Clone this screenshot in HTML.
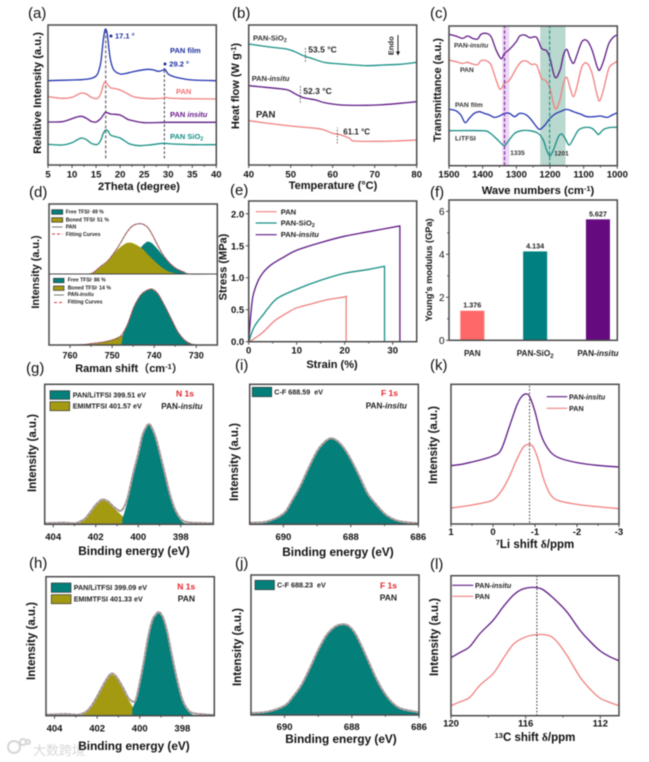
<!DOCTYPE html>
<html lang="en">
<head>
<meta charset="utf-8">
<title>PAN electrolyte characterization figure</title>
<style>
html,body{margin:0;padding:0;background:#fff;width:649px;height:762px;overflow:hidden}
svg{display:block;filter:blur(0.45px)}
text{font-family:"Liberation Sans","Noto Sans CJK SC",sans-serif;fill:#111}
</style>
</head>
<body>
<svg id="figure" xmlns="http://www.w3.org/2000/svg" width="649" height="762" viewBox="0 0 649 762"></svg>
<script>
// Panel (a) XRD
const xrdFilmTheta=[5,10,12,14,15,15.5,16,16.5,16.9,17.3,17.7,18,18.5,19,20,21,23,25,26,27,28,29,29.3,30,31,33,35,40];
const xrdFilmValues=[253,255,256,260,267,280,310,375,407,395,345,315,290,280,273,274,281,286,287,285,281,285,288,273,266,259,255,253];
const xrdPanTheta=[5,6,8,10,11,12,13,14,15,15.5,16,16.5,16.9,17.3,18,19,20,21,22,23,25,27,29,29.3,30,33,40];
const xrdPanValues=[205,203,200,203,210,216,213,203,199,202,215,240,250,243,232,229,225,218,210,204,200,199,201,204,201,199,198];
const xrdInsituTheta=[5,8,10,11,12,13,14,15,16,16.5,17,18,19,20,21,22,25,30,40];
const xrdInsituValues=[129,130,139,144,146,140,131,129,140,150,158,153,152,150,142,135,127,128,128];
const xrdSioTheta=[5,8,10,11,12,13,14,15,15.5,16,16.5,17,17.5,18,19,20,21,22,24,26,29,31,35,40];
const xrdSioValues=[62,60,67,75,81,76,65,61,64,75,95,105,102,90,85,81,72,63,58,60,65,63,61,61];
const xrdXTicks=[5,10,15,20,25,30,35,40];
// Panel (b) DSC
const dscSioTemp=[40,45,49,51,53,55,58,62,68,72,76,80];
const dscSioValues=[363,354,348,340,328,320,308,303,298,300,302,308];
const dscInsituTemp=[40,44,49,51,53,56,58,62,68,72,76,80];
const dscInsituValues=[238,233,226,214,202,195,187,180,179,181,185,190];
const dscPanTemp=[40,44,50,56,58,60,62,64,65,70,75,80];
const dscPanValues=[133,126,117,110,105,95,90,80,72,71,72,75];
const dscXTicks=[40,50,60,70,80];
// Panel (c) FTIR
const irInsituWave=[1500,1480,1460,1445,1430,1415,1405,1390,1375,1360,1345,1335,1320,1300,1290,1275,1260,1240,1225,1210,1200,1185,1170,1160,1150,1140,1130,1120,1105,1090,1075,1060,1052,1040,1025,1010,1000];
const irInsituValues=[394,389,382,389,382,380,394,397,387,347,321,337,349,372,389,392,384,385,352,345,322,265,287,332,349,322,307,332,372,375,347,297,287,317,367,387,392];
const irPanWave=[1500,1480,1460,1445,1430,1415,1405,1390,1375,1360,1348,1335,1320,1300,1285,1270,1255,1240,1225,1212,1200,1185,1172,1160,1150,1140,1130,1120,1105,1090,1075,1060,1052,1040,1025,1010,1000];
const irPanValues=[317,312,307,310,305,303,315,315,302,257,229,247,257,292,312,314,304,302,262,255,232,172,192,247,265,232,207,237,297,307,277,212,195,232,292,307,314];
const irFilmWave=[1500,1480,1465,1452,1440,1425,1410,1395,1380,1365,1350,1335,1320,1305,1290,1270,1255,1240,1230,1215,1200,1185,1170,1150,1130,1110,1090,1070,1050,1030,1015,1000];
const irFilmValues=[169,165,152,129,142,157,162,157,152,145,149,157,157,147,157,152,137,117,109,122,142,155,162,169,162,155,147,147,149,145,152,159];
const irSaltWave=[1500,1400,1380,1360,1345,1335,1325,1305,1285,1260,1235,1220,1210,1200,1190,1175,1165,1155,1143,1130,1115,1095,1075,1060,1055,1040,1020,1000];
const irSaltValues=[105,105,99,82,67,60,72,97,105,105,97,77,47,29,47,87,95,82,62,82,107,115,112,97,94,109,115,115];
const irXTicks=[1500,1400,1300,1200,1100,1000];
// Panel (d) Raman
const ramanTopSumShift=[765,757,754.8,752.8,751,748.8,746.4,744.8,742.8,741.2,739.2,737.6,735.2,732.8,731.6,725];
const ramanTopSumValues=[0,0,2,22,40,77,127,147,150,134,87,52,20,5,0,0];
const ramanTopFreeShift=[748,746,745,744,743,742,741.5,740.5,739,737.6,736,735,733,731.6];
const ramanTopFreeValues=[5,20,38,60,82,94,97,92,72,50,28,18,5,0];
const ramanTopBondShift=[755,752.8,751,748.8,747,746,745,743,741,739,737,735,734];
const ramanTopBondValues=[0,20,38,72,90,94,92,78,52,28,10,2,0];
const ramanLowSumShift=[765,760,757,755,752,750,748,746.4,744.8,743.2,742,740.6,739.2,737.6,736,734.4,732.8,731.2,729.6,725];
const ramanLowSumValues=[0,0,1,4,9,15,26,60,115,150,162,168,155,120,80,40,15,3,0,0];
const ramanLowFreeShift=[747.8,747.5,746.4,744.8,743.2,742,740.6,739.2,737.6,736,734.4,732.8,731.2,729.6];
const ramanLowFreeValues=[0,28,60,115,150,162,168,155,120,80,40,15,3,0];
const ramanLowBondShift=[756,752,750,748,746,744,742,739,736];
const ramanLowBondValues=[0,8,16,27,28,22,15,6,0];
const ramanXTicks=[760,750,740,730];
// Panel (e) stress-strain
const ssPanStrain=[0,1,3,5,6,8,10,13,16,20,20.3,20.3];
const ssPanStress=[0,.04,.15,.3,.36,.45,.53,.59,.65,.7,.71,0];
const ssSioStrain=[0,1,2,3,4,6,10,15,20,25,28.3,28.3];
const ssSioStress=[0,.21,.33,.42,.52,.68,.82,.96,1.07,1.13,1.18,0];
const ssInsituStrain=[0,.3,.6,1,2,3,4,5,7,10,15,20,25,31.5,31.5];
const ssInsituStress=[0,.3,.55,.75,.96,1.08,1.16,1.22,1.31,1.43,1.55,1.65,1.72,1.81,0];
const ssXTicks=[0,10,20,30];
const ssYTicks=[0,.5,1,1.5,2];
const ssYLabels=["0.0","0.5","1.0","1.5","2.0"];
// Panel (f) modulus bars
const barCategories=["PAN","PAN-SiO<tspan dy=\"2\" font-size=\"6\">2</tspan>","PAN-<tspan font-style=\"italic\">insitu</tspan>"];
const barValues=[1.376,4.134,5.627];
const barYTicks=[0,2,4,6];
// Panel (g) XPS N1s insitu
const n1sInsituSumEv=[404.4,404,403.5,403,402.75,402.5,402.25,402,401.75,401.6,401.4,401.2,401,400.85,400.7,400.5,400.25,400,399.8,399.6,399.5,399.4,399.2,399,398.75,398.5,398.25,398,397.8,397.5,397,396.5];
const n1sInsituSumValues=[3,4,5,3,8,17,37,58,73,74,68,55,45,40,48,80,150,212,268,295,300,295,265,218,153,88,42,16,8,5,4,3];
const n1sInsituLiEv=[400.75,400.5,400.25,400,399.8,399.6,399.5,399.4,399.2,399,398.75,398.5,398.25,398,397.8,397.5];
const n1sInsituLiValues=[15,70,145,210,265,292,298,292,262,215,150,85,38,12,3,0];
const n1sInsituImEv=[403,402.75,402.5,402.25,402,401.75,401.6,401.4,401.2,401,400.75,400.5,400.25,400,399.8];
const n1sInsituImValues=[0,5,14,34,55,70,71,65,52,40,25,12,5,1,0];
// Panel (h) XPS N1s PAN
const n1sPanSumEv=[404.4,403.5,403,402.8,402.5,402.25,402,401.75,401.5,401.35,401.2,401,400.75,400.55,400.4,400.3,400.15,399.85,399.6,399.4,399.25,399.1,398.9,398.7,398.5,398.25,398,397.75,397.5,397,396.5];
const n1sPanSumValues=[3,5,3,4,13,31,58,88,115,126,124,108,80,55,45,42,55,148,238,288,303,311,294,249,184,109,49,19,8,4,2];
const n1sPanLiEv=[400.35,400.1,399.85,399.6,399.4,399.25,399.1,398.9,398.7,398.5,398.25,398,397.75,397.5,397.3];
const n1sPanLiValues=[20,65,145,235,285,300,307,290,245,180,105,45,15,3,0];
const n1sPanImEv=[402.8,402.5,402.25,402,401.75,401.5,401.35,401.2,401,400.75,400.5,400.25,400,399.8];
const n1sPanImValues=[0,10,28,55,85,112,122,120,105,75,45,20,5,0];
const n1sXTicks=[404,402,400,398];
// Panels (i)(j) XPS F1s
const f1sInsituEv=[691,690.5,690,689.75,689.5,689.25,689,688.8,688.6,688.4,688.2,688,687.75,687.5,687.25,687,686.75,686.5,686];
const f1sInsituValues=[5,8,32,70,115,170,220,245,258,250,228,195,145,92,60,32,16,8,3];
const f1sPanEv=[691,690.5,690,689.75,689.5,689.25,689,688.75,688.5,688.3,688.1,687.9,687.7,687.5,687.25,687,686.75,686.5,686];
const f1sPanValues=[6,10,28,55,90,140,195,240,265,272,268,245,205,160,105,62,33,18,8];
const f1sXTicks=[690,688,686];
// Panel (k) 7Li NMR
const liInsituShift=[1,.75,.5,.25,0,-.19,-.39,-.56,-.68,-.8,-.88,-1,-1.12,-1.24,-1.4,-1.6,-2,-2.47,-3];
const liInsituValues=[175,179,186,194,204,222,292,354,382,390,380,337,277,240,212,197,184,176,171];
const liPanShift=[1,.75,.5,.25,0,-.19,-.39,-.56,-.72,-.86,-.96,-1.08,-1.2,-1.36,-1.56,-2,-2.47,-3];
const liPanValues=[48,52,57,63,72,97,142,192,230,239,230,192,137,90,70,59,52,46];
const liXTicks=[1,0,-1,-2,-3];
// Panel (l) 13C NMR
const cInsituShift=[120,119.5,119,118.44,117.73,117.2,116.65,116.2,115.6,115.1,114.5,113.8,113.1,112.5,112,111.5,111];
const cInsituValues=[174,190,207,247,287,327,362,379,385,379,352,312,257,220,194,177,165];
const cPanShift=[120,119.5,119,118.44,117.73,117.2,116.65,116.1,115.6,114.87,114.4,113.8,113.1,112.5,112,111.5,111];
const cPanValues=[30,42,55,92,127,172,215,234,242,242,227,182,117,77,52,40,30];
const cXTicks=[120,116,112];

const NS='http://www.w3.org/2000/svg';
const root=document.getElementById('figure');
const FRAME='#4a4a4a',TEAL='#178f86',PURPLE='#5f1a85',PINK='#f08080',BLUE='#2233b0',FILLT='#047f7a',FILLO='#a39a12';
const LW=1.3;

function node(tag,parent,name,attrs){
  const n=document.createElementNS(NS,tag);
  
  
  for(const k in attrs){n.setAttribute(k,attrs[k]);}
  parent.appendChild(n);
  return n;
}
function txt(parent,name,x,y,html,size,o){
  o=o||{};
  const a={x:x,y:y,'font-size':size,'font-weight':o.weight||'bold','text-anchor':o.anchor||'start'};
  if(o.fill){a.style='fill:'+o.fill;}
  if(o.rotate){a.transform='rotate(-90 '+x+' '+y+')';}
  const t=node('text',parent,name,a);
  t.innerHTML=html;
  return t;
}
function panel(name,x0,y0,x1,y1,xd,yd){
  const g=node('g',root,name,{});
  return {g:g,x0:x0,y0:y0,x1:x1,y1:y1,
    x:v=>x0+(v-xd[0])/(xd[1]-xd[0])*(x1-x0),
    y:v=>y1-(v-yd[0])/(yd[1]-yd[0])*(y1-y0)};
}
function pts(p,xs,ys,off){
  return xs.map((v,i)=>[p.x(v),p.y(ys[i]+(off||0))]);
}
function smoothPath(q){
  let d='M'+q[0][0].toFixed(2)+' '+q[0][1].toFixed(2);
  for(let i=0;i<q.length-1;i++){
    const a=q[Math.max(i-1,0)],b=q[i],c=q[i+1],e=q[Math.min(i+2,q.length-1)];
    const c1=[b[0]+(c[0]-a[0])/6,b[1]+(c[1]-a[1])/6],c2=[c[0]-(e[0]-b[0])/6,c[1]-(e[1]-b[1])/6];
    d+='C'+c1[0].toFixed(2)+' '+c1[1].toFixed(2)+' '+c2[0].toFixed(2)+' '+c2[1].toFixed(2)+' '+c[0].toFixed(2)+' '+c[1].toFixed(2);
  }
  return d;
}
function linePath(q){return 'M'+q.map(r=>r[0].toFixed(2)+' '+r[1].toFixed(2)).join('L');}
function curve(p,name,xs,ys,color,w,o){
  o=o||{};
  const q=pts(p,xs,ys,o.off);
  let d;
  if(o.drop){
    const last=q[q.length-1];
    d=smoothPath(q.slice(0,-1))+'L'+last[0].toFixed(2)+' '+last[1].toFixed(2);
  }else{
    d=(o.linear?linePath:smoothPath)(q);
  }
  const a={d:d,fill:'none',stroke:color,'stroke-width':w,'stroke-linejoin':'round'};
  if(o.dash){a['stroke-dasharray']=o.dash;}
  return node('path',p.g,name,a);
}
function area(p,name,xs,ys,fill,o){
  o=o||{};
  const q=pts(p,xs,ys,o.off);
  const base=p.y(o.off||0);
  const d=(o.linear?linePath:smoothPath)(q)+'L'+q[q.length-1][0].toFixed(2)+' '+base+'L'+q[0][0].toFixed(2)+' '+base+'Z';
  return node('path',p.g,name,{d:d,fill:fill});
}
function frame(p){
  node('rect',p.g,'plot-frame',{x:p.x0,y:p.y0,width:p.x1-p.x0,height:p.y1-p.y0,fill:'none',stroke:FRAME,'stroke-width':1.5});
}
function tick(p,name,x1,y1,x2,y2){
  node('line',p.g,name,{x1:x1,y1:y1,x2:x2,y2:y2,stroke:FRAME,'stroke-width':1});
}
function xAxis(p,vals,labels,off,minor,size){
  vals.forEach((v,i)=>{
    tick(p,'x-tick',p.x(v),p.y1,p.x(v),p.y1+3);
    txt(p.g,'x-tick-label',p.x(v),p.y1+off,labels?labels[i]:String(v),size||9.5,{anchor:'middle'});
    if(i<vals.length-1&&minor){
      const m=(v+vals[i+1])/2;
      tick(p,'x-minor-tick',p.x(m),p.y1,p.x(m),p.y1+1.8);
    }
  });
}
function yAxis(p,vals,labels,minor,size,weight){
  vals.forEach((v,i)=>{
    tick(p,'y-tick',p.x0,p.y(v),p.x0-3,p.y(v));
    txt(p.g,'y-tick-label',p.x0-4.5,p.y(v)+3.5,labels?labels[i]:String(v),size||9.5,{anchor:'end',weight:weight||'bold'});
    if(i<vals.length-1&&minor){
      const m=(v+vals[i+1])/2;
      tick(p,'y-minor-tick',p.x0,p.y(m),p.x0-1.8,p.y(m));
    }
  });
}
function vguide(p,name,v,a,b,color,w,dash){
  node('line',p.g,name,{x1:p.x(v),x2:p.x(v),y1:p.y(a),y2:p.y(b),stroke:color,'stroke-width':w,'stroke-dasharray':dash});
}
function letter(s,x,y){txt(root,'panel-label-'+s,x,y,'('+s+')',15,{weight:'normal'});}
function yTitle(name,x,y,html,size){txt(root,name,x,y,html,size||11,{rotate:true,anchor:'middle'});}
function xTitle(name,x,y,html,size){txt(root,name,x,y,html,size||11.5,{anchor:'middle'});}
function swatch(p,name,x,y,w,h,fill){
  node('rect',p.g,name,{x:x,y:y,width:w,height:h,fill:fill,stroke:'#333','stroke-width':.7});
}
function legLine(p,name,x1,x2,y,color,w,dash){
  const a={x1:x1,x2:x2,y1:y,y2:y,stroke:color,'stroke-width':w||1.2};
  if(dash){a['stroke-dasharray']=dash;}
  node('line',p.g,name,a);
}
const SUB2='<tspan dy="1.5" font-size="5.5">2</tspan>';
const INS='<tspan font-style="italic">insitu</tspan>';

// Watermark sits below everything
(function(){
  const w=node('g',root,'watermark',{});
  [[14,747,6],[23,742,3],[28,742,2]].forEach(c=>{
    node('circle',w,'watermark-logo-dot',{cx:c[0],cy:c[1],r:c[2],fill:'none',stroke:'#d6d6d6','stroke-width':2});
  });
  txt(w,'watermark-text',33,755,'大数跨境',13,{weight:'normal',fill:'#d8d8d8'});
})();

// (a)
(function(){
  const p=panel('panel-a-xrd',48,25,216.3,165,[5,40],[0,420]);
  vguide(p,'peak-guide-17',17,20,410,'#777',1.4,'3 2');
  vguide(p,'peak-guide-29',29.2,20,290,'#222',.9,'2.5 2');
  curve(p,'xrd-pan-film',xrdFilmTheta,xrdFilmValues,BLUE,LW);
  curve(p,'xrd-pan',xrdPanTheta,xrdPanValues,PINK,LW);
  curve(p,'xrd-pan-insitu',xrdInsituTheta,xrdInsituValues,PURPLE,LW);
  curve(p,'xrd-pan-sio2',xrdSioTheta,xrdSioValues,TEAL,LW);
  frame(p);
  xAxis(p,xrdXTicks,null,12.3,true);
  node('circle',p.g,'peak-marker-17',{cx:111,cy:36,r:1.5,fill:'#1a2ea0'});
  node('circle',p.g,'peak-marker-29',{cx:165,cy:64,r:1.5,fill:'#1a2ea0'});
  txt(p.g,'peak-label-17',115,38.5,'17.1 °',7.5,{fill:'#1a2ea0'});
  txt(p.g,'label-pan-film',170,53,'PAN film',7.5,{fill:'#1a2ea0'});
  txt(p.g,'peak-label-29',169.3,66.5,'29.2 °',7.5,{fill:'#1a2ea0'});
  txt(p.g,'label-pan',176,94,'PAN',7.5,{fill:'#f07070'});
  txt(p.g,'label-pan-insitu',170,117,'PAN '+INS,7.5,{fill:'#6a1b8a'});
  txt(p.g,'label-pan-sio2',170,139,'PAN SiO'+SUB2,7.5,{fill:'#178f86'});
})();
letter('a',28,18);
yTitle('y-axis-title-a',41,93,'Relative Intensity (a.u.)',11.2);
xTitle('x-axis-title-a',139,190,'2Theta (degree)',11);

// (b)
(function(){
  const p=panel('panel-b-dsc',248.7,25,416.7,165,[40,80],[0,420]);
  curve(p,'dsc-pan-sio2',dscSioTemp,dscSioValues,TEAL,LW);
  curve(p,'dsc-pan-insitu',dscInsituTemp,dscInsituValues,PURPLE,LW);
  curve(p,'dsc-pan',dscPanTemp,dscPanValues,PINK,LW);
  vguide(p,'tg-guide-sio2',53.5,310,355,'#333',.8,'1.5 1.5');
  vguide(p,'tg-guide-insitu',52.3,187,237,'#333',.8,'1.5 1.5');
  vguide(p,'tg-guide-pan',61.1,65,112,'#333',.8,'1.5 1.5');
  frame(p);
  xAxis(p,dscXTicks,null,12.3,true);
  txt(p.g,'label-pan-sio2',253,40.7,'PAN-SiO'+SUB2,7.5,{fill:'#333'});
  txt(p.g,'tg-label-sio2',308.3,52.7,'53.5 °C',8.5,{fill:'#222'});
  txt(p.g,'label-pan-insitu',251.7,81,'PAN-'+INS,7.5,{fill:'#333'});
  txt(p.g,'tg-label-insitu',303.3,94,'52.3 °C',8.5,{fill:'#222'});
  txt(p.g,'label-pan',256,117.3,'PAN',9.5,{fill:'#222'});
  txt(p.g,'tg-label-pan',343.3,134.3,'61.1 °C',8,{fill:'#222'});
  txt(p.g,'endo-label',393.5,45.7,'Endo',7.5,{rotate:true,anchor:'middle',fill:'#222'});
  node('line',p.g,'endo-arrow-shaft',{x1:398,x2:398,y1:35,y2:53,stroke:'#111','stroke-width':.9});
  node('path',p.g,'endo-arrow-head',{d:'M396 51.5L400 51.5L398 55.5Z',fill:'#111'});
})();
letter('b',232,18);
yTitle('y-axis-title-b',239,86,'Heat flow (W g<tspan dy="-3" font-size="7.5">-1</tspan><tspan dy="3">)</tspan>',11);
xTitle('x-axis-title-b',333,189,'Temperature (°C)',11);

// (c)
(function(){
  const p=panel('panel-c-ftir',449,26,617.3,165.7,[1500,1000],[0,419]);
  node('rect',p.g,'band-1335',{x:p.x(1342),y:p.y0,width:p.x(1321)-p.x(1342),height:p.y1-p.y0,fill:'#ecd9f3'});
  node('rect',p.g,'band-1201',{x:p.x(1229),y:p.y0,width:p.x(1154)-p.x(1229),height:p.y1-p.y0,fill:'#b9d8cf'});
  curve(p,'ir-pan-insitu',irInsituWave,irInsituValues,PURPLE,LW);
  curve(p,'ir-pan',irPanWave,irPanValues,PINK,LW);
  curve(p,'ir-pan-film',irFilmWave,irFilmValues,BLUE,LW);
  curve(p,'ir-litfsi',irSaltWave,irSaltValues,TEAL,LW);
  vguide(p,'guide-1335',1335,0,419,'#8a2fb0',1.3,'3.5 2');
  vguide(p,'guide-1201',1201,0,419,'#17907f',1.1,'3.5 2');
  frame(p);
  xAxis(p,irXTicks,null,12,true);
  txt(p.g,'label-pan-insitu',454,47.7,'PAN-'+INS,6.8,{fill:'#333'});
  txt(p.g,'label-pan',460,72,'PAN',6.8,{fill:'#333'});
  txt(p.g,'label-pan-film',455,107,'PAN film',6.8,{fill:'#333'});
  txt(p.g,'label-litfsi',455,140.7,'LiTFSI',6.8,{fill:'#333'});
  txt(p.g,'wavenumber-1335',510.3,155,'1335',6.5,{fill:'#333'});
  txt(p.g,'wavenumber-1201',554.3,155.7,'1201',6.5,{fill:'#333'});
})();
letter('c',430,18);
yTitle('y-axis-title-c',441,90,'Transmittance (a.u.)',11);
xTitle('x-axis-title-c',538,194,'Wave numbers (cm<tspan dy="-3" font-size="7.5">-1</tspan><tspan dy="3">)</tspan>',11.2);

// (d)
(function(){
  const p=panel('panel-d-raman',49,204,217.3,345,[765,725],[0,423]);
  const T=213;
  area(p,'raman-top-free-tfsi',ramanTopFreeShift,ramanTopFreeValues,FILLT,{off:T});
  area(p,'raman-top-bonded-tfsi',ramanTopBondShift,ramanTopBondValues,FILLO,{off:T});
  curve(p,'raman-top-pan',ramanTopSumShift,ramanTopSumValues,'#777',1,{off:T});
  curve(p,'raman-top-fit',ramanTopSumShift,ramanTopSumValues,'#d43c3c',.8,{off:T,dash:'2.5 2'});
  area(p,'raman-low-bonded-tfsi',ramanLowBondShift,ramanLowBondValues,FILLO);
  area(p,'raman-low-free-tfsi',ramanLowFreeShift,ramanLowFreeValues,FILLT,{linear:true});
  curve(p,'raman-low-pan-insitu',ramanLowSumShift,ramanLowSumValues,'#777',1);
  curve(p,'raman-low-fit',ramanLowSumShift,ramanLowSumValues,'#d43c3c',.8,{dash:'2.5 2'});
  node('line',p.g,'raman-divider',{x1:49,x2:217.3,y1:p.y(T),y2:p.y(T),stroke:FRAME,'stroke-width':1});
  frame(p);
  xAxis(p,ramanXTicks,null,13.3,true,9);
  swatch(p,'legend-swatch-free-top',51.7,209.7,11,4.6,FILLT);
  swatch(p,'legend-swatch-bonded-top',51.7,217.7,11,4.5,FILLO);
  legLine(p,'legend-line-pan',52,62.5,227,'#777',1);
  legLine(p,'legend-line-fit-top',52,62.5,234,'#d43c3c',1,'3 2');
  txt(p.g,'legend-free-top',65.7,213.5,'Free TFSI<tspan dy="-1.5" font-size="3.5">-</tspan><tspan dy="1.5"> 49 %</tspan>',5.2,{fill:'#222'});
  txt(p.g,'legend-bonded-top',65.7,221.5,'Boned TFSI<tspan dy="-1.5" font-size="3.5">-</tspan><tspan dy="1.5"> 51 %</tspan>',5.2,{fill:'#222'});
  txt(p.g,'legend-pan',65.7,228.5,'PAN',5.2,{fill:'#222'});
  txt(p.g,'legend-fit-top',65.7,236,'Fitting Curves',5.2,{fill:'#222'});
  swatch(p,'legend-swatch-free-low',53.5,278.3,10.5,4.4,FILLT);
  swatch(p,'legend-swatch-bonded-low',53.5,286,10.5,4.4,FILLO);
  legLine(p,'legend-line-insitu',54,64,295,'#777',1);
  legLine(p,'legend-line-fit-low',54,64,302.5,'#d43c3c',1,'3 2');
  txt(p.g,'legend-free-low',67.7,281.7,'Free TFSI<tspan dy="-1.5" font-size="3.5">-</tspan><tspan dy="1.5"> 86 %</tspan>',5.2,{fill:'#222'});
  txt(p.g,'legend-bonded-low',67.7,289.3,'Boned TFSI<tspan dy="-1.5" font-size="3.5">-</tspan><tspan dy="1.5"> 14 %</tspan>',5.2,{fill:'#222'});
  txt(p.g,'legend-pan-insitu',67.7,296,'PAN-'+INS,5.2,{fill:'#222'});
  txt(p.g,'legend-fit-low',67.7,303.3,'Fitting Curves',5.2,{fill:'#222'});
})();
letter('d',29,197);
yTitle('y-axis-title-d',39,272,'Intensity (a.u.)',10.8);
xTitle('x-axis-title-d',129,372,'Raman shift（cm<tspan dy="-3" font-size="7.5">-1</tspan><tspan dy="3">）</tspan>',11);

// (e)
(function(){
  const p=panel('panel-e-stress-strain',248.7,201,416.7,341.7,[0,35],[0,2.2]);
  curve(p,'stress-pan',ssPanStrain,ssPanStress,PINK,LW,{drop:true});
  curve(p,'stress-pan-sio2',ssSioStrain,ssSioStress,TEAL,LW,{drop:true});
  curve(p,'stress-pan-insitu',ssInsituStrain,ssInsituStress,PURPLE,LW,{drop:true});
  frame(p);
  xAxis(p,ssXTicks,null,11.6,true);
  yAxis(p,ssYTicks,ssYLabels,false);
  legLine(p,'legend-line-pan',255.7,276.7,211.7,PINK);
  legLine(p,'legend-line-sio2',255.7,276.7,223,TEAL);
  legLine(p,'legend-line-insitu',255.7,276.7,234.7,PURPLE);
  txt(p.g,'legend-pan',280.7,214.3,'PAN',7.6,{fill:'#222'});
  txt(p.g,'legend-sio2',280.7,225.5,'PAN-SiO'+SUB2,7.6,{fill:'#222'});
  txt(p.g,'legend-insitu',280.7,237.2,'PAN-'+INS,7.6,{fill:'#222'});
})();
letter('e',230,195);
yTitle('y-axis-title-e',226.5,267,'Stress (MPa)',11);
xTitle('x-axis-title-e',332,368,'Strain (%)',11);

// (f)
(function(){
  const p=panel('panel-f-modulus',449,200,617.3,340.3,[-0.371,2.308],[0,6.527]);
  const colors=['#ff6868','#008080','#660a80'];
  const ids=['pan','pan-sio2','pan-insitu'];
  barValues.forEach((v,i)=>{
    const cx=p.x(i);
    node('rect',p.g,'bar-'+ids[i],{x:cx-12,y:p.y(v),width:24,height:p.y(0)-p.y(v),fill:colors[i]});
    txt(p.g,'bar-value-'+ids[i],cx,p.y(v)-3,v.toFixed(3),7.2,{anchor:'middle',fill:'#222'});
    txt(p.g,'bar-category-'+ids[i],cx,355.8,barCategories[i],8.2,{anchor:'middle',fill:'#222'});
  });
  frame(p);
  yAxis(p,barYTicks,null,true,10,'normal');
})();
letter('f',430,197);
yTitle('y-axis-title-f',432,270,'Young\'s modulus (GPa)',9.2);

// XPS helper
function xpsTop(p,xs,ys){
  curve(p,'xps-envelope',xs,ys,'#a8a8a8',2);
  curve(p,'xps-data-points',xs,ys,'#b57c7c',1.5,{dash:'1.4 3.2'});
}

// (g)
(function(){
  const p=panel('panel-g-n1s-insitu',44.7,384.3,213.3,524.3,[404.4,396.47],[0,420]);
  area(p,'peak-emimtfsi',n1sInsituImEv,n1sInsituImValues,FILLO);
  area(p,'peak-pan-litfsi',n1sInsituLiEv,n1sInsituLiValues,FILLT);
  xpsTop(p,n1sInsituSumEv,n1sInsituSumValues);
  frame(p);
  xAxis(p,n1sXTicks,null,15.7,true);
  swatch(p,'legend-swatch-pan-litfsi',50,390.7,19.7,8.6,FILLT);
  swatch(p,'legend-swatch-emimtfsi',50,401.7,19.7,9,FILLO);
  txt(p.g,'legend-pan-litfsi',72.7,397.7,'PAN/LiTFSI 399.51 eV',7.2,{fill:'#222'});
  txt(p.g,'legend-emimtfsi',72.7,408.3,'EMIMTFSI 401.57 eV',7.2,{fill:'#222'});
  txt(p.g,'label-n1s',176,396.7,'N 1s',8.5,{fill:'#e4262c'});
  txt(p.g,'label-pan-insitu',161.3,409,'PAN-'+INS,8.2,{fill:'#222'});
})();
letter('g',26,373);
yTitle('y-axis-title-g',36,453,'Intensity (a.u.)',11.5);
xTitle('x-axis-title-g',134,555,'Binding energy (eV)',11.8);

// (h)
(function(){
  const p=panel('panel-h-n1s-pan',46,576.7,214.3,715.7,[404.4,396.5],[0,417]);
  area(p,'peak-emimtfsi',n1sPanImEv,n1sPanImValues,FILLO);
  area(p,'peak-pan-litfsi',n1sPanLiEv,n1sPanLiValues,FILLT);
  xpsTop(p,n1sPanSumEv,n1sPanSumValues);
  frame(p);
  xAxis(p,n1sXTicks,null,15.7,true);
  swatch(p,'legend-swatch-pan-litfsi',51.3,583,19.7,9.3,FILLT);
  swatch(p,'legend-swatch-emimtfsi',51.3,594.7,19.7,9,FILLO);
  txt(p.g,'legend-pan-litfsi',73.7,590,'PAN/LiTFSI 399.09 eV',7.2,{fill:'#222'});
  txt(p.g,'legend-emimtfsi',73.7,601.7,'EMIMTFSI 401.33 eV',7.2,{fill:'#222'});
  txt(p.g,'label-n1s',177.3,589.3,'N 1s',8.5,{fill:'#e4262c'});
  txt(p.g,'label-pan',177.7,601.7,'PAN',8.5,{fill:'#222'});
})();
letter('h',29,568);
yTitle('y-axis-title-h',35,641,'Intensity (a.u.)',11.5);
xTitle('x-axis-title-h',134,750,'Binding energy (eV)',11.8);

// (i)
(function(){
  const p=panel('panel-i-f1s-insitu',249.7,384.3,418.3,524.3,[691,686],[0,420]);
  area(p,'peak-c-f',f1sInsituEv,f1sInsituValues,FILLT);
  xpsTop(p,f1sInsituEv,f1sInsituValues);
  frame(p);
  xAxis(p,f1sXTicks,null,15.7,true);
  swatch(p,'legend-swatch-c-f',252.3,387.3,19.4,9.4,FILLT);
  txt(p.g,'legend-c-f',274.3,394.3,'C-F 688.59&#160; eV',7.2,{fill:'#222'});
  txt(p.g,'label-f1s',381,396,'F 1s',8.5,{fill:'#e4262c'});
  txt(p.g,'label-pan-insitu',365.7,408.3,'PAN-'+INS,8.2,{fill:'#222'});
})();
letter('i',235,370);
yTitle('y-axis-title-i',238,462,'Intensity (a.u.)',11.5);
xTitle('x-axis-title-i',338,556,'Binding energy (eV)',11.8);

// (j)
(function(){
  const p=panel('panel-j-f1s-pan',251,575,419,715,[691,686],[0,420]);
  area(p,'peak-c-f',f1sPanEv,f1sPanValues,FILLT);
  xpsTop(p,f1sPanEv,f1sPanValues);
  frame(p);
  xAxis(p,f1sXTicks,null,15,true);
  swatch(p,'legend-swatch-c-f',255,580.3,19.4,9.4,FILLT);
  txt(p.g,'legend-c-f',277,587.7,'C-F 688.23&#160; eV',7.2,{fill:'#222'});
  txt(p.g,'label-f1s',380,588.3,'F 1s',8.5,{fill:'#e4262c'});
  txt(p.g,'label-pan',379.7,600.7,'PAN',8.5,{fill:'#222'});
})();
letter('j',235,568);
yTitle('y-axis-title-j',241,647,'Intensity (a.u.)',11.5);
xTitle('x-axis-title-j',341,743,'Binding energy (eV)',11.8);

// (k)
(function(){
  const p=panel('panel-k-li-nmr',451,384.3,619,524,[1,-3],[0,419]);
  curve(p,'li-pan-insitu',liInsituShift,liInsituValues,PURPLE,LW);
  curve(p,'li-pan',liPanShift,liPanValues,PINK,LW);
  vguide(p,'li-peak-guide',-.87,4,419,'#333',1,'1.5 1.8');
  frame(p);
  xAxis(p,liXTicks,null,11,true);
  legLine(p,'legend-line-insitu',546.7,567.3,396.7,PURPLE);
  legLine(p,'legend-line-pan',546.7,567.3,408.3,PINK);
  txt(p.g,'legend-pan-insitu',569,399.3,'PAN-'+INS,7.2,{fill:'#222'});
  txt(p.g,'legend-pan',569,411,'PAN',7.2,{fill:'#222'});
})();
letter('k',430,370);
yTitle('y-axis-title-k',437,445,'Intensity (a.u.)',11.5);
xTitle('x-axis-title-k',535,548,'<tspan dy="-3" font-size="7.5">7</tspan><tspan dy="3">Li shift </tspan><tspan font-family="Liberation Serif">δ</tspan>/ppm',11.5);

// (l)
(function(){
  const p=panel('panel-l-c-nmr',451,575.7,619,715.7,[120,111],[0,420]);
  curve(p,'c-pan-insitu',cInsituShift,cInsituValues,PURPLE,LW);
  curve(p,'c-pan',cPanShift,cPanValues,PINK,LW);
  vguide(p,'c-peak-guide',115.4,0,420,'#222',1,'1.5 1.8');
  frame(p);
  xAxis(p,cXTicks,null,11,true);
  legLine(p,'legend-line-insitu',452.3,473.3,585.3,PURPLE);
  legLine(p,'legend-line-pan',452.3,473.3,596.3,PINK);
  txt(p.g,'legend-pan-insitu',475,588,'PAN-'+INS,7.2,{fill:'#222'});
  txt(p.g,'legend-pan',475,599,'PAN',7.2,{fill:'#222'});
})();
letter('l',430,569);
yTitle('y-axis-title-l',438,637,'Intensity (a.u.)',11.5);
xTitle('x-axis-title-l',535,741,'<tspan dy="-3" font-size="7.5">13</tspan><tspan dy="3">C shift </tspan><tspan font-family="Liberation Serif">δ</tspan>/ppm',11.5);
</script>
</body>
</html>
